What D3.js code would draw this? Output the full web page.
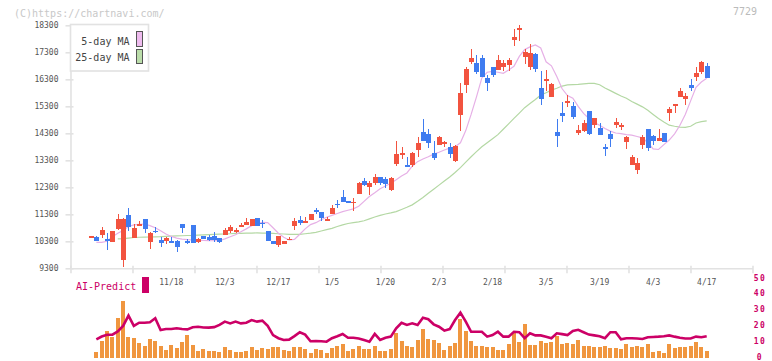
<!DOCTYPE html>
<html lang="en">
<head>
  <meta charset="UTF-8" />
  <title>7729 chart</title>
  <script src="https://d3js.org/d3.v7.min.js"></script>
  <style>
    body { margin: 0; background: #fff; }
    svg { font-family: "DejaVu Sans Mono", "Liberation Mono", monospace; display: block; }
    .ma { fill: none; stroke-width: 1.2px; }
    .ma5 { stroke: #e6b0e6; }
    .ma25 { stroke: #b4d8a4; }
  </style>
</head>
<body>
  <svg width="772" height="361"></svg>

  <script>
    // candles, index 0 = first trading day shown
    const open = [
      10470, 10450, 10545, 10374, 10285, 10756, 9620, 11274, 10433, 10867,
      11137, 10285, 10700, 10348, 10311, 10310, 10311, 10941, 10310, 10904,
      10263, 10496, 10470, 10496, 10411, 10533, 10693, 10633, 10841, 10893,
      10867, 11152, 10985, 10693, 10322, 10163, 10189, 10380, 10878, 11089,
      11030, 11089, 11459, 11374, 11063, 11311, 11700, 11952, 11793, 11750,
      12050, 12550, 12300, 12450, 12670, 12596, 12200, 13163, 13507, 13110,
      13137, 13682, 14348, 14274, 13582, 13867, 13950, 13804, 13285, 14978,
      16089, 16930, 16915, 17100, 16360, 16767, 16634, 16767, 16819, 17756,
      18126, 17126, 16745, 17237, 15978, 16248, 15656, 14359, 15052, 15434,
      15311, 14322, 14396, 15126, 14607, 14485, 13782, 14274, 14607, 14545,
      13989, 13126, 12941, 13867, 14459, 14200, 14026, 14322, 15063, 15337,
      15656, 15582, 16100, 16385, 16552, 16793
    ];
    const high = [
      10490, 10480, 10840, 10596, 10680, 11310, 11150, 11545, 10941, 11052,
      11137, 10630, 10841, 10470, 10470, 10470, 10348, 10941, 10385, 10904,
      10420, 10496, 10520, 10640, 10411, 10804, 10920, 10800, 10980, 11174,
      11115, 11152, 11089, 10693, 10322, 10507, 10311, 10460, 11180, 11250,
      11200, 11311, 11545, 11374, 11200, 11650, 11830, 12200, 11793, 11900,
      12500, 12650, 12550, 12780, 12700, 12690, 12700, 14026, 13790, 13430,
      13600, 14174, 14830, 14460, 14026, 14200, 14000, 13930, 13860, 16174,
      16770, 17440, 17190, 17200, 16460, 16767, 17190, 17004, 17080, 18163,
      18310, 17440, 17590, 17290, 16600, 16640, 16150, 14830, 15470, 15730,
      15470, 14600, 14790, 15126, 14856, 14670, 13900, 14385, 14850, 14690,
      14200, 13490, 13370, 14240, 14459, 14240, 14460, 14322, 15260, 15385,
      15970, 15800, 16310, 16740, 16980, 16890
    ];
    const low = [
      10470, 10320, 10410, 9990, 10285, 10730, 9360, 10693, 10422, 10860,
      10596, 10026, 10620, 10100, 10200, 10220, 9915, 10619, 10200, 10226,
      10230, 10374, 10300, 10260, 10230, 10533, 10590, 10600, 10841, 10893,
      10867, 10867, 10782, 10322, 10200, 10100, 10189, 10350, 10720, 10900,
      10960, 11089, 11310, 11063, 11063, 11311, 11545, 11767, 11707, 11440,
      12050, 12350, 12020, 12400, 12400, 12260, 12150, 13100, 13330, 13090,
      13050, 13430, 14026, 13750, 13310, 13867, 13800, 13380, 13220, 14396,
      15800, 16860, 16510, 16397, 15880, 16370, 16634, 16610, 16600, 17545,
      17730, 16860, 16640, 16560, 15330, 15880, 15656, 13800, 14730, 15260,
      14830, 14240, 14350, 14240, 14500, 14237, 13460, 13800, 14480, 14420,
      13720, 13126, 12790, 13720, 13660, 13860, 14026, 13989, 14770, 15060,
      15656, 15340, 15880, 16230, 16500, 16360
    ];
    const close = [
      10490, 10320, 10707, 10300, 10670, 11115, 11115, 10841, 10804, 10952,
      10756, 10619, 10680, 10226, 10411, 10290, 10078, 10804, 10290, 10226,
      10385, 10374, 10348, 10348, 10263, 10718, 10819, 10718, 10904, 11026,
      11115, 10867, 10930, 10322, 10200, 10507, 10311, 10400, 11052, 10967,
      11050, 11311, 11396, 11174, 11115, 11545, 11690, 11767, 11707, 11760,
      12450, 12400, 12450, 12700, 12448, 12422, 12656, 13533, 13582, 13090,
      13559, 13952, 14026, 13930, 13396, 14174, 13970, 13533, 13830, 15804,
      16682, 17100, 16560, 16397, 16174, 16460, 17004, 16893, 17004, 17878,
      18212, 17300, 17263, 16671, 15582, 16322, 16126, 14211, 14952, 15508,
      14915, 14422, 14670, 14274, 14856, 14237, 13730, 14089, 14730, 14607,
      14163, 13422, 13211, 14152, 13767, 14026, 14141, 13989, 15200, 15385,
      15867, 15682, 15989, 16534, 16956, 16360
    ];
    const ma5 = [
      null, 10263, 10263, 10300, 10470, 10600, 10700, 10850, 10910, 10930,
      10940, 10880, 10800, 10690, 10570, 10480, 10420, 10380, 10360, 10348,
      10340, 10330, 10322, 10320, 10322, 10390, 10470, 10540, 10650, 10760,
      10880, 10950, 11000, 10990, 10800, 10600, 10450, 10350, 10370, 10560,
      10760, 10920, 10990, 11100, 11190, 11260, 11330, 11400, 11450, 11500,
      11600, 11780, 11960, 12100, 12250, 12350, 12450, 12580, 12720, 12830,
      13080, 13250, 13350, 13430, 13530, 13600, 13680, 13750, 13800, 13950,
      14400, 15000, 15650, 16350, 16560, 16590, 16560, 16520, 16640, 16780,
      17150, 17400, 17500, 17570, 17460, 16950, 16800, 16400, 15950, 15700,
      15600, 15300, 15040, 14850, 14700, 14600, 14480, 14380, 14310, 14290,
      14250, 14230, 14180, 14130, 13950, 13720, 13700, 13880, 14050, 14280,
      14600, 15000, 15500, 16000, 16200, 16340
    ];
    const ma25 = [
      null, null, null, null, null, 10390, 10400, 10420, 10440, 10450,
      10455, 10460, 10465, 10470, 10480, 10490, 10500, 10505, 10515, 10520,
      10530, 10540, 10550, 10560, 10565, 10570, 10580, 10590, 10595, 10600,
      10605, 10610, 10605, 10600, 10590, 10580, 10570, 10560, 10560, 10560,
      10580, 10600, 10630, 10680, 10730, 10780, 10850, 10910, 10960, 10990,
      11020, 11060, 11130, 11200, 11260, 11310, 11350, 11400, 11480, 11560,
      11650, 11780, 11920, 12080, 12230, 12380, 12530, 12680, 12850, 13030,
      13230, 13430, 13620, 13800, 13950, 14100, 14250, 14450, 14650, 14850,
      15050, 15250, 15400, 15550, 15720, 15800, 15900, 15970, 16050, 16090,
      16100, 16110, 16130, 16150, 16150, 16100, 15980, 15880, 15780, 15680,
      15600, 15480, 15380, 15280, 15150, 15000, 14850, 14720, 14600, 14560,
      14530, 14520, 14560, 14680, 14730, 14760
    ];
    const aiPredict = [
      null, 11.5, 13.3, 14.4, 14.5, 16.5, 20, 26.5, 20, 22,
      22, 22.3, 24.8, 17.4, 18, 18, 18.5, 18, 17.8, 19.1,
      19.5, 19, 18.9, 19.2, 20.6, 22.7, 21.6, 22.7, 21.6, 22,
      23.7, 22.7, 23.3, 20, 14.2, 12.2, 11.1, 11.3, 13.5, 16,
      14.5, 10.3, 10.4, 10.3, 10, 12.2, 13.5, 14.9, 12.5, 12.5,
      12, 11, 10, 14.9, 11.1, 12.5, 13.2, 18.5, 22, 20.6,
      21.6, 20.6, 25.2, 24.2, 21, 19.5, 17, 18, 23.7, 28.4,
      22.7, 16.3, 16.3, 16.3, 13.2, 14.2, 16.3, 13.2, 13.2, 16.3,
      16, 12.2, 15.3, 14, 14, 13.2, 12.2, 15.3, 14.8, 14.2,
      16.8, 17.5, 16, 14.5, 14, 13.5, 12.2, 16, 16, 11.5,
      12.2, 12.2, 12, 11.7, 12.8, 13, 13.2, 13.5, 14, 13.2,
      12.5, 12, 12, 13.2, 12.8, 13.5
    ];
    const volume = [
      null, 3.7, 10.4, 16.8, 13.2, 24.8, 35.8, 13.2, 12.5, 9.4,
      7.3, 11.7, 10.4, 7.3, 4.7, 7.9, 6.2, 10, 14.2, 7.9,
      4.3, 5.4, 4.3, 4.3, 3.3, 6.5, 4.7, 3.2, 3.3, 4.3,
      6.5, 4.7, 5.7, 5.4, 6.5, 6.5, 4.7, 4.3, 6.5, 6.5,
      5.4, 3.0, 5.4, 4.7, 3.0, 5.8, 7.3, 8.5, 4.3, 5.4,
      7.3, 5.4, 5.4, 7.3, 4.3, 4.3, 5.4, 15.7, 10.6, 7.3,
      6.5, 11.1, 18, 11.7, 11.1, 9.4, 4.7, 7.3, 9.4, 24.4,
      16.8, 10.6, 7.3, 7.3, 6.5, 6.5, 4.7, 4.7, 8.5, 15.3,
      10, 21.2, 7.9, 7.9, 10.4, 9, 10, 13.6, 8.5, 9.4,
      8.5, 11.1, 7.3, 7.3, 6.5, 6.5, 7.3, 6.2, 5.8, 5.4,
      8.5, 6.9, 7.3, 6.5, 8.5, 3.7, 4.1, 3.0, 8.5, 6.2,
      6.9, 6.9, 7.3, 10, 6.9, 4.3
    ];
    const dateIdx = [15, 25, 35, 45, 55, 65, 75, 85, 95, 105, 115];
    const dateLabels = ["11/18", "12/3", "12/17", "1/5", "1/20", "2/3", "2/18", "3/5", "3/19", "4/3", "4/17"];
    const priceTicks = [9300, 10300, 11300, 12300, 13300, 14300, 15300, 16300, 17300, 18300];
    const aiTicks = [0, 10, 20, 30, 40, 50];

    const RED = "#f2533f", BLUE = "#3f7cf0", MAG = "#cc0066";
    const svg = d3.select("svg");

    const x = d3.scaleLinear().domain([0, 115]).range([91, 706.7]);
    const y = d3.scaleLinear().domain([9300, 18300]).range([268.3, 25.3]);
    const yv = d3.scaleLinear().domain([0, 50]).range([357.5, 278.5]);
    const gridX = d3.scaleLinear().domain([0, 11]).range([70.5, 752.5]);

    svg.append("text").attr("x", 14).attr("y", 17)
      .attr("font-size", 10).attr("fill", "#c8c8c8").text("(C)https://chartnavi.com/");
    svg.append("text").attr("x", 757).attr("y", 15).attr("text-anchor", "end")
      .attr("font-size", 10).attr("fill", "#bbb").text("7729");

    // axes
    const yAxis = svg.append("g").attr("transform", "translate(70.5,0)")
      .call(d3.axisLeft(y).tickValues(priceTicks).tickFormat(d3.format("d"))
        .tickSizeInner(5).tickSizeOuter(0).tickPadding(7));
    yAxis.attr("font-family", null).attr("font-size", null);
    yAxis.selectAll(".tick line").attr("x1", 3);
    yAxis.selectAll("text").attr("font-size", 8).attr("fill", "#555");
    yAxis.selectAll("path, line").attr("stroke", "#e2e2e2").attr("stroke-width", 1.6);

    const xAxis = svg.append("g").attr("transform", "translate(0,268.3)")
      .call(d3.axisBottom(gridX).tickValues(d3.range(12)).tickFormat("").tickSizeInner(5).tickSizeOuter(0));
    xAxis.selectAll(".tick line").attr("y1", -2.5);
    xAxis.selectAll("path, line").attr("stroke", "#e2e2e2").attr("stroke-width", 1.6);

    svg.append("g").selectAll("text").data(dateIdx).join("text")
      .attr("x", d => x(d)).attr("y", 285).attr("text-anchor", "middle")
      .attr("font-size", 8).attr("fill", "#555")
      .text((d, i) => dateLabels[i]);

    // moving averages
    const maLine = d3.line().defined(d => d[1] != null).x(d => x(d[0])).y(d => y(d[1]));
    svg.append("path").attr("class", "ma ma25").attr("d", maLine(ma25.map((v, i) => [i, v])));
    svg.append("path").attr("class", "ma ma5").attr("d", maLine(ma5.map((v, i) => [i, v])));

    // candles
    const candles = svg.append("g").attr("shape-rendering", "crispEdges");
    const idx = d3.range(open.length);
    candles.selectAll("line").data(idx).join("line")
      .attr("x1", i => Math.round(x(i)) + 0.5).attr("x2", i => Math.round(x(i)) + 0.5)
      .attr("y1", i => y(high[i])).attr("y2", i => y(low[i]))
      .attr("stroke", i => close[i] >= open[i] ? RED : BLUE);
    candles.selectAll("rect").data(idx).join("rect")
      .attr("x", i => Math.round(x(i)) - 2)
      .attr("width", 5)
      .attr("y", i => y(Math.max(open[i], close[i])))
      .attr("height", i => Math.max(1.5, Math.abs(y(open[i]) - y(close[i]))))
      .attr("fill", i => close[i] >= open[i] ? RED : BLUE);

    // legend
    const leg = svg.append("g");
    leg.append("rect").attr("x", 70.5).attr("y", 24.5).attr("width", 78).attr("height", 46.5)
      .attr("fill", "#fff").attr("stroke", "#e2e2e2").attr("stroke-width", 1.6);
    [["5-day MA", "#eebbee", 31.5, 15, 45], ["25-day MA", "#bbddaa", 49.5, 14, 61]].forEach(([t, c, ry, rh, ty]) => {
      leg.append("text").attr("x", 129.5).attr("y", ty).attr("text-anchor", "end")
        .attr("font-size", 10).attr("fill", "#444").text(t);
      leg.append("rect").attr("x", 136.5).attr("y", ry).attr("width", 6).attr("height", rh)
        .attr("fill", c).attr("stroke", "#555");
    });

    // lower panel
    svg.append("text").attr("x", 76).attr("y", 289.5)
      .attr("font-size", 10).attr("fill", MAG).text("AI-Predict");
    svg.append("rect").attr("x", 142).attr("y", 277).attr("width", 7).attr("height", 16).attr("fill", MAG);

    svg.append("g").attr("shape-rendering", "crispEdges")
      .selectAll("rect").data(idx.filter(i => volume[i] != null)).join("rect")
      .attr("x", i => Math.round(x(i)) - 2).attr("width", 4)
      .attr("y", i => yv(volume[i])).attr("height", i => yv(0) - yv(volume[i]))
      .attr("fill", "#f0963f");

    const aiLine = d3.line().defined(d => d[1] != null).x(d => x(d[0])).y(d => yv(d[1]));
    svg.append("path").attr("d", aiLine(aiPredict.map((v, i) => [i, v])))
      .attr("fill", "none").attr("stroke", MAG).attr("stroke-width", 2.6);

    svg.append("g").selectAll("text").data(aiTicks).join("text")
      .attr("x", 760).attr("y", d => yv(d) + 2).attr("text-anchor", "middle")
      .attr("font-size", 8).attr("font-weight", "bold").attr("letter-spacing", 1.5)
      .attr("fill", MAG).text(d => d);
  </script>
</body>
</html>
